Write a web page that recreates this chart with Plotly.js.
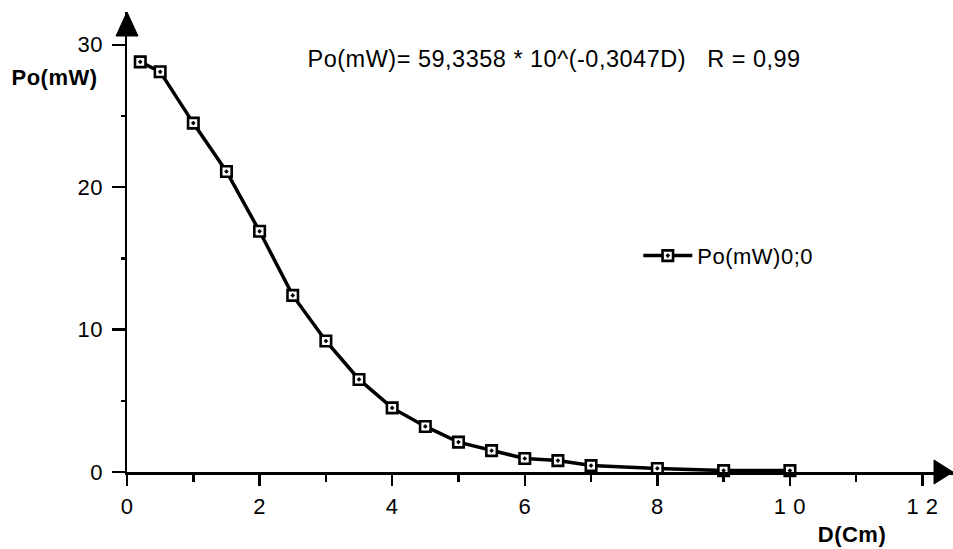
<!DOCTYPE html>
<html>
<head>
<meta charset="utf-8">
<script src="https://cdn.plot.ly/plotly-3.0.1.min.js"></script>
<style>html,body{margin:0;padding:0;background:#fff;}#chart{width:953px;height:549px;}
#chart svg text{letter-spacing:0.5px;}</style>
</head>
<body>
<div id="chart"></div>
<script>
const distanceCm = [0.2, 0.5, 1, 1.5, 2, 2.5, 3, 3.5, 4, 4.5, 5, 5.5, 6, 6.5, 7, 8, 9, 10];
const powerMW = [28.8, 28.1, 24.5, 21.1, 16.9, 12.4, 9.2, 6.5, 4.5, 3.2, 2.1, 1.5, 0.95, 0.8, 0.45, 0.25, 0.1, 0.1];
const seriesName = "Po(mW)0;0";
const equationText = "Po(mW)= 59,3358 * 10^(-0,3047D)   R = 0,99";
const xTickVals = [0, 2, 4, 6, 8, 10, 12];
const xTickText = ["0", "2", "4", "6", "8", "1 0", "1 2"];
const yTickVals = [0, 10, 20, 30];

const FONT = "Liberation Sans, Arial, Helvetica, sans-serif";
const FS = 22;

const trace = {
  x: distanceCm,
  y: powerMW,
  name: seriesName,
  type: "scatter",
  mode: "lines+markers",
  line: {color: "#000", width: 3.5},
  marker: {symbol: "square-dot", size: 10.5, color: "#fff", line: {color: "#000", width: 2.6}},
  cliponaxis: false
};

const layout = {
  width: 953, height: 549,
  margin: {l: 127, r: 0, t: 12, b: 77},
  paper_bgcolor: "#fff", plot_bgcolor: "#fff",
  font: {family: FONT, size: FS, color: "#000"},
  showlegend: true,
  legend: {x: 0.619, y: 0.47, xanchor: "left", yanchor: "middle", bgcolor: "rgba(0,0,0,0)",
           font: {family: FONT, size: FS, color: "#000"}, itemwidth: 49},
  xaxis: {
    range: [0, 12.46], showgrid: false, zeroline: false,
    showline: true, linecolor: "#000", linewidth: 2.5,
    tickmode: "array", tickvals: xTickVals, ticktext: xTickText,
    ticks: "outside", ticklen: 11, tickwidth: 2.5, tickcolor: "#000",
    ticklabelstandoff: 2,
    minor: {dtick: 1, ticks: "outside", ticklen: 7, tickwidth: 2.5, tickcolor: "#000", showgrid: false},
    tickfont: {family: FONT, size: FS, color: "#000"}
  },
  yaxis: {
    range: [0, 32.3], showgrid: false, zeroline: false,
    showline: true, linecolor: "#000", linewidth: 2.5,
    tickmode: "array", tickvals: yTickVals,
    ticks: "outside", ticklen: 13, tickwidth: 2.5, tickcolor: "#000",
    ticklabelstandoff: 4,
    minor: {dtick: 5, ticks: "outside", ticklen: 4, tickwidth: 2.5, tickcolor: "#000", showgrid: false},
    tickfont: {family: FONT, size: FS, color: "#000"}
  },
  shapes: [
    {type: "path", xref: "paper", yref: "paper", xsizemode: "pixel", ysizemode: "pixel",
     xanchor: 1, yanchor: 0, path: "M0,0 L-19,12 L-19,-12 Z",
     fillcolor: "#000", line: {color: "#000", width: 1}},
    {type: "path", xref: "paper", yref: "paper", xsizemode: "pixel", ysizemode: "pixel",
     xanchor: 0, yanchor: 1, path: "M0,0 L-11,-24 L11,-24 Z",
     fillcolor: "#000", line: {color: "#000", width: 1}}
  ],
  annotations: [
    {xref: "paper", yref: "paper", x: -0.14, y: 0.858, xanchor: "left", yanchor: "middle",
     showarrow: false, text: "<b>Po(mW)</b>", font: {family: FONT, size: FS, color: "#000"}},
    {xref: "paper", yref: "paper", x: 0.835, y: -0.135, xanchor: "left", yanchor: "middle",
     showarrow: false, text: "<b>D(Cm)</b>", font: {family: FONT, size: FS, color: "#000"}},
    {xref: "paper", yref: "paper", x: 0.229, y: 0.897, xanchor: "left", yanchor: "middle",
     showarrow: false, text: equationText, font: {family: FONT, size: 23.5, color: "#000"}}
  ]
};

Plotly.newPlot("chart", [trace], layout, {displayModeBar: false, staticPlot: true});
</script>
</body>
</html>
